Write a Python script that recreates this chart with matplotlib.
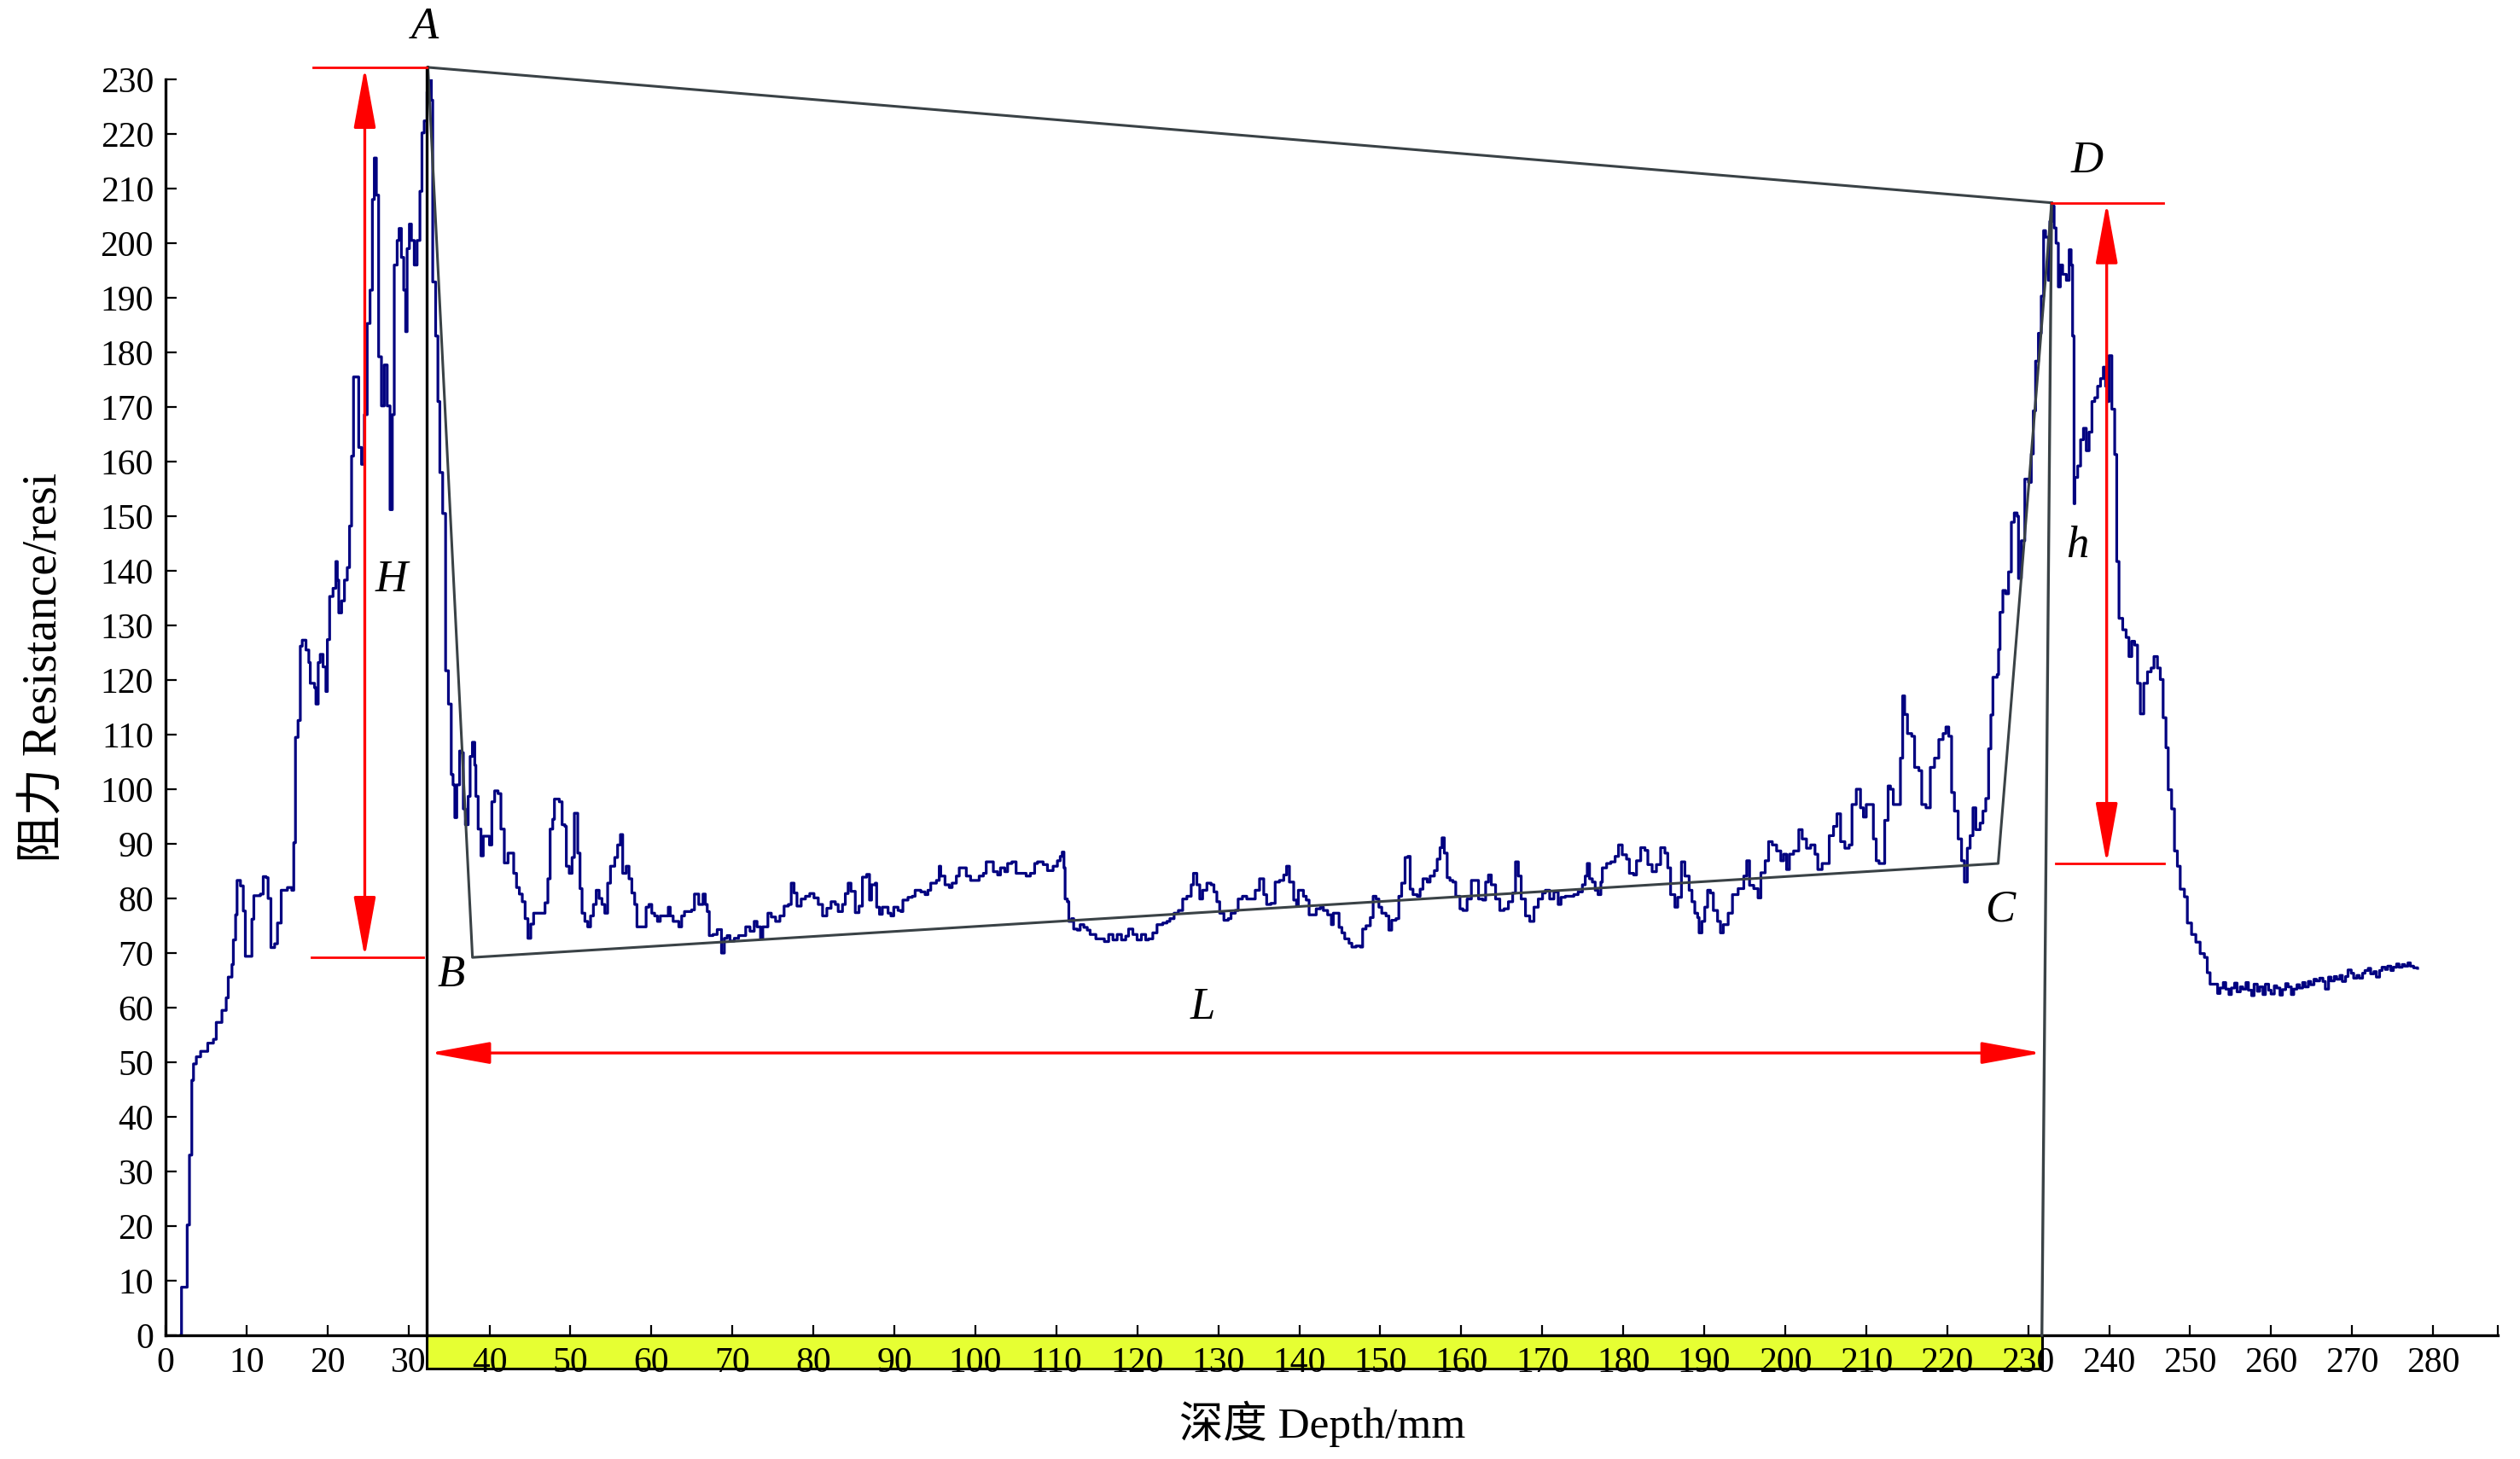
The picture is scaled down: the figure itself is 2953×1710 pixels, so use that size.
import matplotlib.pyplot as plt
from matplotlib.patches import Rectangle

# resistance curve (depth in mm, resistance in resi)
depth = [
    1.9, 1.97, 2.67, 2.67, 2.95, 3.24, 3.45, 3.80, 4.33, 5.21, 5.91, 6.26, 6.96, 7.49, 7.74, 8.20,
    8.37, 8.65, 8.83, 9.25, 9.60, 9.85, 10.41, 10.66, 10.90, 11.71, 12.06, 12.42, 12.66, 13.01, 13.47,
    13.82, 14.28, 15.05, 15.58, 15.83, 16.04, 16.36, 16.64, 16.88, 17.34, 17.69, 17.87, 18.40, 18.57,
    18.85, 19.10, 19.45, 19.80, 19.98, 20.26, 20.68, 21.03, 21.21, 21.39, 21.74, 22.09, 22.44, 22.72,
    22.97, 23.21, 23.60, 23.85, 24.20, 24.55, 24.90, 25.25, 25.54, 25.78, 26.03, 26.31, 26.66, 27.01,
    27.37, 27.72, 28.00, 28.24, 28.60, 28.84, 29.12, 29.41, 29.65, 29.83, 30.11, 30.36, 30.71, 31.06,
    31.41, 31.66, 31.94, 32.29, 32.54, 32.82, 32.99, 33.35, 33.63, 33.87, 34.22, 34.58, 34.93, 35.28,
    35.50, 35.72, 35.96, 36.31, 36.56, 36.77, 37.02, 37.37, 37.61, 37.89, 38.18, 38.32, 38.60, 38.95,
    39.23, 40.00, 40.29, 40.64, 41.06, 41.41, 41.83, 42.29, 42.75, 42.99, 43.34, 43.69, 44.05, 44.40,
    44.75, 45.10, 45.45, 46.51, 46.86, 47.21, 47.49, 47.81, 48.02, 48.62, 48.97, 49.32, 49.49, 49.85,
    50.20, 50.48, 50.72, 50.90, 51.18, 51.43, 51.78, 52.13, 52.48, 52.83, 53.18, 53.54, 53.89, 54.24,
    54.59, 54.94, 55.47, 55.82, 56.17, 56.45, 56.88, 57.23, 57.58, 57.93, 58.21, 58.98, 59.34, 59.69,
    60.04, 60.39, 60.74, 61.09, 61.80, 62.08, 62.32, 62.68, 63.03, 63.38, 63.73, 64.08, 64.96, 65.31,
    65.84, 66.37, 66.65, 66.89, 67.14, 67.60, 68.12, 68.65, 69.00, 69.35, 69.70, 70.23, 70.76, 71.11,
    71.64, 72.17, 72.69, 73.04, 73.47, 73.75, 74.38, 74.80, 75.33, 75.86, 76.38, 76.91, 77.26, 77.61,
    77.97, 78.49, 79.02, 79.55, 80.07, 80.60, 81.13, 81.66, 82.18, 82.71, 83.06, 83.59, 83.94, 84.29,
    84.64, 85.17, 85.63, 86.05, 86.58,
    86.93, 87.18, 87.64, 87.81, 88.16, 88.51, 89.22, 89.57, 89.92, 90.45, 90.80, 91.05, 91.68, 92.21,
    92.56, 93.26, 93.79, 94.14, 94.49, 95.19, 95.54, 95.72, 96.25, 96.78, 97.13, 97.65, 98.01, 98.53,
    98.88, 99.41, 99.94, 100.47, 100.99, 101.34, 101.87, 102.22, 102.75, 103.10, 103.63, 103.98,
    104.51, 105.03, 105.74, 106.27, 106.79, 107.32, 107.67, 108.37, 108.90, 109.60, 110.13, 110.48,
    110.73, 110.94, 111.08, 111.36, 111.54, 111.89, 112.14, 112.59, 112.94, 113.40, 113.82, 114.17,
    114.88, 115.58, 115.93, 116.46, 116.99, 117.51, 118.04, 118.57, 118.92, 119.45, 119.97, 120.50,
    121.03, 121.38, 121.91, 122.43, 123.14, 123.66, 124.02, 124.54, 125.07, 125.60, 126.12, 126.65,
    126.93, 127.35, 127.71, 128.06, 128.59, 129.11, 129.46, 129.82, 130.17, 130.69, 131.22, 131.57,
    132.10, 132.45, 132.98, 133.51, 134.03, 134.56, 135.09, 135.61, 135.97, 136.49, 137.02, 137.55,
    138.08, 138.43, 138.78, 139.31, 139.66,
    139.88, 140.51, 140.86, 141.21, 141.74, 142.09, 142.62, 142.97, 143.50, 143.96, 144.20, 144.55,
    144.91, 145.26, 145.61, 146.14, 146.49, 147.01, 147.54, 147.82, 148.24, 148.77, 149.12, 149.48,
    149.83, 150.18, 150.71, 151.06, 151.41, 151.94, 152.29, 152.64, 153.06, 153.41, 153.69, 154.04,
    154.57, 154.92, 155.27, 155.80, 156.15, 156.68, 157.03, 157.38, 157.63, 157.91, 158.26, 158.61,
    158.97, 159.32, 159.84, 160.20, 160.72, 161.25, 161.78, 162.13, 162.66, 163.01, 163.36, 163.71,
    164.24, 164.76, 165.29, 165.82, 166.35, 166.70, 167.05, 167.40, 167.93, 168.46, 168.98, 169.51,
    170.04, 170.39, 170.92, 171.44, 171.97, 172.32, 172.85, 173.38, 173.90, 174.43, 174.96, 175.31,
    175.56, 175.84, 176.19, 176.54, 176.89, 177.24, 177.42, 177.95, 178.47, 179.00, 179.42, 179.88,
    180.41, 180.76, 181.29, 181.64, 182.16, 182.69, 183.04, 183.57, 184.10, 184.62, 185.15, 185.50,
    185.85, 186.38, 186.73, 187.19, 187.61, 188.14, 188.49, 188.84, 189.19, 189.37, 189.72, 190.07,
    190.42, 190.77, 191.13, 191.65, 192.01, 192.36,
    192.96, 193.49, 194.19, 194.89, 195.25, 195.60, 196.12, 196.65, 197.00, 197.53, 197.95, 198.41,
    198.94, 199.46, 199.81, 200.17, 200.52, 201.04, 201.68, 202.10, 202.63, 203.15, 203.68, 204.03,
    204.56, 204.91, 205.44, 205.97, 206.39, 206.84, 207.37, 207.90, 208.25, 208.78, 209.30, 209.66,
    210.01, 210.54, 210.89, 211.24, 211.59, 212.01, 212.29, 212.71, 213.00, 213.35, 213.87, 214.23,
    214.51, 214.75, 215.10, 215.63, 215.98, 216.51, 216.86, 217.39, 217.92, 218.44, 218.97, 219.50,
    219.85, 220.20, 220.55, 220.90, 221.36, 221.78, 222.13, 222.49, 222.84, 223.19, 223.54, 224.07,
    224.42, 224.77, 225.12, 225.40, 225.65, 226.18, 226.35, 226.53, 226.88, 227.23, 227.58, 227.93,
    228.29, 228.64, 228.81, 229.16, 229.59, 230.04, 230.39, 230.64, 230.92, 231.27, 231.62, 231.91,
    232.15, 232.50, 232.68, 232.93, 233.21, 233.45, 233.73, 233.98, 234.26, 234.72, 235.07, 235.31,
    235.49, 235.67,
    235.77, 236.12, 236.48, 236.83, 237.18, 237.53, 237.88, 238.23, 238.58, 238.94, 239.29, 239.57,
    239.81, 239.99, 240.34, 240.69, 240.94, 241.22, 241.68, 242.10, 242.45, 242.80, 243.15, 243.51,
    243.86, 244.28, 244.74, 245.19, 245.54, 245.97, 246.32, 246.67, 247.02, 247.30, 247.72, 248.07,
    248.43, 248.78, 249.30, 249.66, 250.18, 250.71, 251.24, 251.77, 252.12, 252.47,
    253.0, 253.4, 253.7, 254.1, 254.4, 254.8, 255.1, 255.5, 255.8, 256.2, 256.5, 256.9, 257.2, 257.6,
    257.9, 258.3, 258.6, 259.0, 259.3, 259.7, 260.0, 260.4, 260.7, 261.1, 261.4, 261.8, 262.1, 262.5,
    262.8, 263.2, 263.5, 263.9, 264.2, 264.6, 264.9, 265.3, 265.6, 266.0, 266.4, 266.7, 267.1, 267.4,
    267.8, 268.1, 268.5, 268.8, 269.2, 269.5, 269.9, 270.2, 270.6, 270.9, 271.3, 271.6, 272.0, 272.3,
    272.7, 273.0, 273.4, 273.7, 274.1, 274.4, 274.8, 275.1, 275.5, 275.8, 276.2, 276.5, 276.9, 277.2,
    277.6, 278.1,
]
resistance = [
    0, 8.8, 8.8, 20.2, 33.0, 46.7, 49.7, 51.0, 52.0, 53.5, 54.2, 57.3, 59.5, 61.8, 65.6, 67.9,
    72.4, 77.0, 83.3, 82.3, 77.7, 69.4, 69.4, 76.2, 80.5, 80.8, 84.0, 83.8, 80.0, 71.0, 71.7,
    75.5, 81.5, 82.0, 81.5, 90.2, 109.5, 112.6, 126.2, 127.3, 125.5, 123.2, 119.4, 118.6, 115.6,
    123.2, 124.7, 122.4, 117.9, 127.4, 135.3, 136.8, 141.7, 138.3, 132.3, 134.5, 138.3, 140.6, 148.2,
    161.0, 175.5, 175.5, 162.6, 159.5, 168.6, 185.3, 191.4, 208.0, 215.6, 208.8, 179.2, 170.2, 177.7,
    170.2, 151.2, 168.6, 196.0, 200.5, 202.7, 197.4, 191.4, 183.8, 199.0, 203.5, 200.5, 196.0, 200.5,
    209.5, 220.2, 222.4, 227.7, 232.0, 226.2, 192.9, 183.0, 171.0, 158.0, 150.5, 121.7, 115.6, 102.7,
    100.8, 94.8, 100.8, 107.0, 106.7, 96.4, 93.5, 98.7, 106.0, 108.6, 104.4, 98.7, 92.7, 87.8,
    91.4, 89.8, 97.7, 99.7, 99.2, 92.7, 86.5, 88.3, 88.3, 84.6, 82.0, 80.8, 79.4, 76.3,
    72.7, 75.3, 77.3, 77.3, 79.2, 83.6, 92.7, 94.5, 98.2, 97.7, 93.5, 93.2, 85.9, 84.6,
    87.5, 95.6, 95.6, 88.3, 81.8, 77.3, 75.8, 74.8, 76.8, 78.9, 81.5, 80.0, 78.9, 77.3,
    82.8, 85.9, 87.5, 89.8, 91.7, 84.6, 85.9, 83.6, 81.0, 78.9, 74.8, 74.8, 78.4, 78.9,
    77.3, 76.8, 75.8, 76.8, 76.8, 78.4, 76.8, 75.8, 75.8, 74.8, 76.8, 77.6, 77.9, 80.8,
    78.9, 80.8, 78.9, 77.6, 73.2, 73.4, 74.3, 70.0, 72.7, 73.2, 72.2, 72.7, 73.2, 73.2,
    74.8, 74.0, 75.8, 74.8, 72.7, 74.8, 77.3, 76.6, 75.8, 76.8, 78.6, 78.9, 82.8, 81.0,
    78.6, 79.9, 80.4, 80.9, 80.1, 78.9, 76.8, 78.2, 79.4, 78.9, 77.6, 78.9, 80.9, 82.8,
    81.3, 77.4, 78.6, 83.9, 84.4,
    79.7, 82.5, 82.8, 78.4, 77.1, 78.4, 77.3, 76.8, 78.4, 77.8, 77.6, 79.7, 80.2, 80.4,
    81.5, 81.2, 80.7, 81.5, 82.8, 83.3, 85.9, 84.1, 82.5, 82.0, 82.8, 84.1, 85.6, 85.6,
    84.1, 83.3, 83.3, 84.1, 84.6, 86.7, 86.7, 84.9, 84.3, 85.6, 84.9, 86.4,
    86.7, 84.6, 84.6, 84.1, 84.6, 86.4, 86.7, 86.2, 85.1, 85.9, 86.9, 87.7,
    88.5, 85.6, 79.9, 79.4, 75.8, 76.3, 74.4, 74.2, 75.2, 74.7, 74.2, 73.4,
    72.6, 72.6, 72.1, 73.4, 72.4, 73.4, 72.4, 73.1, 74.4, 73.4, 72.4, 73.4,
    72.4, 72.6, 73.7, 75.2, 75.5, 75.8, 76.3, 77.3, 77.8, 79.9, 80.4, 82.5,
    84.6, 82.5, 79.9, 81.5, 82.8, 82.5, 81.2, 79.4, 77.3, 76.0, 76.3, 77.3,
    77.8, 79.9, 80.4, 79.9, 79.9, 81.5, 83.6, 80.7, 78.9, 79.1, 83.0, 83.3,
    84.3, 85.9, 83.0, 79.7, 78.6,
    81.5, 80.4, 79.7, 77.0, 77.0, 78.1, 78.4, 77.8, 77.0, 75.2, 77.3, 77.3,
    74.7, 73.7, 72.6, 71.8, 71.1, 71.3, 71.1, 74.4, 75.0, 76.5, 80.4, 79.9,
    78.4, 77.3, 76.8, 74.2, 76.0, 76.3, 80.4, 82.8, 87.5, 87.7, 81.7, 80.7,
    80.4, 81.7, 83.6, 83.0, 84.1, 85.1, 87.2, 89.3, 91.1, 88.3, 83.8, 83.3,
    83.0, 80.4, 78.1, 77.8, 79.9, 83.3, 83.3, 79.9, 79.7, 83.0, 84.3, 82.5,
    79.9, 77.8, 78.1, 79.4, 81.0, 86.7, 84.1, 79.9, 76.8, 75.8, 78.4, 79.9,
    81.0, 81.5, 79.9, 81.2, 78.9, 80.2, 80.4, 80.4, 80.7, 81.2, 82.5, 84.1,
    86.4, 83.6, 83.0, 81.5, 80.7, 83.0, 85.6, 86.4, 86.7, 87.7, 89.8, 88.0,
    87.2, 84.6, 84.3, 86.9, 89.3, 88.8, 86.2, 84.9, 86.2, 89.3, 88.3, 85.6,
    80.7, 78.4, 80.2, 86.7, 84.1, 81.5, 79.4, 77.3, 76.5, 73.7, 75.8, 78.4,
    81.5, 81.0, 77.8, 75.8, 73.7, 75.2,
    77.3, 80.7, 81.8, 84.1, 86.9, 82.4, 81.8, 80.1, 84.7, 86.9, 90.4, 89.8,
    88.7, 86.9, 88.1, 85.3, 88.1, 88.7, 92.6, 90.9, 89.2, 89.8, 88.1, 85.3,
    86.4, 86.4, 91.5, 93.2, 95.5, 90.4, 89.2, 89.8, 97.2, 100.0, 96.6, 94.9,
    97.2, 97.2, 90.9, 86.9, 86.4, 86.4, 94.3, 100.6, 100.0, 97.2, 97.2, 105.7,
    117.1, 113.7, 110.2, 109.7, 104.0, 103.4, 97.2, 96.6, 104.0, 105.7, 109.1, 110.2,
    111.4, 109.7, 99.4, 96.0, 90.9, 86.9, 83.0, 89.2, 91.5, 96.6, 92.6, 93.8,
    96.0, 98.3, 107.4, 113.6, 120.5, 121.0, 125.6, 132.4, 136.4, 135.8, 139.8, 148.9,
    150.6, 150.0, 138.6, 145.5, 156.8, 156.2, 161.4, 169.3, 178.4, 183.5, 190.3, 202.3,
    201.1, 193.2, 204.0, 206.8, 202.8, 200.0, 192.0, 196.0, 194.3, 193.2, 198.8, 196.0,
    183.0, 152.3,
    157.1, 159.2, 164.0, 166.1, 162.0, 165.4, 171.0, 171.7, 173.8, 175.2, 177.3, 173.8,
    171.0, 179.4, 169.6, 161.3, 141.7, 131.3, 129.2, 127.8, 124.3, 127.1, 126.4, 119.4,
    113.8, 119.4, 121.5, 122.2, 124.3, 122.2, 120.1, 113.1, 107.6, 99.9, 96.4, 88.7,
    85.9, 81.7, 80.3, 75.5, 73.4, 72.0, 69.9, 69.2, 66.4, 64.3,
    64.3, 62.6, 63.6, 64.6, 63.4, 62.4, 63.6, 64.5, 62.9, 63.8, 63.4, 64.6, 63.2, 62.2,
    64.3, 63.0, 63.8, 62.4, 64.3, 63.2, 62.5, 64.0, 63.6, 62.3, 63.3, 64.4, 63.8, 62.4,
    63.4, 64.2, 63.6, 64.6, 63.8, 64.8, 64.2, 65.2, 64.9, 65.4, 64.8, 63.4, 65.6, 64.9,
    65.7, 65.2, 65.9, 64.8, 65.7, 66.9, 66.3, 65.4, 65.9, 65.4, 66.3, 66.8, 67.2, 66.2,
    66.6, 65.6, 66.8, 67.4, 67.0, 67.6, 66.8, 67.4, 68.0, 67.4, 67.9, 67.6, 68.2, 67.6,
    67.3, 67.2,
]

# corner points of the fitted outline A-B-C-D
outline_x = [32.4, 37.9, 226.3, 232.9, 32.4]
outline_y = [232.2, 69.2, 86.4, 207.4, 232.2]
point_names = ['A', 'B', 'C', 'D']

x_ticks = list(range(0, 290, 10))
y_ticks = list(range(0, 240, 10))

plt.rcParams['font.family'] = ['Liberation Serif', 'Noto Sans CJK SC']

fig = plt.figure(figsize=(29.53, 17.10), dpi=100)
ax = fig.add_axes([0.0657, 0.0848, 0.9255, 0.8608])

ax.plot(depth, resistance, color='#000080', lw=2.3, drawstyle='steps-post', zorder=2)

# outline and the two vertical lines through A and D
ax.plot(outline_x, outline_y, color='#3a4246', lw=2.2, zorder=3, clip_on=False)
ax.plot([outline_x[0] - 0.2] * 2, [0, outline_y[0]], color='black', lw=2.4, zorder=3, clip_on=False)
ax.plot([231.7, outline_x[3]], [0, outline_y[3]], color='#3a4246', lw=2.4, zorder=3, clip_on=False)

# yellow band under the axis between A and D
band = Rectangle((32.2, -6.1), 231.7 - 32.2, 6.1, facecolor='#e6ff33', edgecolor='black',
                 lw=2.2, clip_on=False, zorder=1)
ax.add_patch(band)

# red guide lines and double arrows
red = '#ff0000'
for xs, ys in [([18.2, 32.2], [232.2, 232.2]), ([18.0, 31.8], [69.2, 69.2]),
               ([232.9, 246.7], [207.4, 207.4]), ([233.4, 246.8], [86.4, 86.4])]:
    ax.plot(xs, ys, color=red, lw=2.0, zorder=4, clip_on=False)

arrow = dict(arrowstyle='<|-|>,head_length=44,head_width=8', color=red, lw=2.4,
             shrinkA=0, shrinkB=0, mutation_scale=1)
ax.annotate('', xy=(24.6, 232.2), xytext=(24.6, 69.2), arrowprops=arrow, annotation_clip=False)
ax.annotate('', xy=(239.7, 207.4), xytext=(239.7, 86.4), arrowprops=arrow, annotation_clip=False)
ax.annotate('', xy=(32.6, 51.7), xytext=(231.7, 51.7), arrowprops=arrow, annotation_clip=False)

# point and dimension labels
lbl = dict(fontsize=38, fontstyle='italic', ha='center', va='center', zorder=5)
for name, (tx, ty) in zip(point_names, [(32.0, 239.5), (35.3, 66.0), (226.5, 77.9), (237.3, 215.0)]):
    ax.text(tx, ty, name, clip_on=False, **lbl)
ax.text(27.9, 138.3, 'H', **lbl)
ax.text(236.1, 144.5, 'h', **lbl)
ax.text(128.1, 60.0, 'L', **lbl)

ax.set_xlim(0, 288)
ax.set_ylim(0, 230)
ax.spines['top'].set_visible(False)
ax.spines['right'].set_visible(False)
ax.spines['left'].set_linewidth(2.4)
ax.spines['bottom'].set_linewidth(2.4)
ax.set_xticks(x_ticks + [288])
ax.set_xticklabels([str(v) for v in x_ticks] + [''])
ax.set_yticks(y_ticks)
ax.set_yticklabels([str(v) for v in y_ticks])
ax.tick_params(direction='in', length=9, width=1.6, labelsize=30, pad=10)

fig.text(0.0173, 0.5427, '阻力 Resistance/resi', rotation=90, ha='center', va='center', fontsize=40)
fig.text(0.5249, 0.024, '深度 Depth/mm', ha='center', va='center', fontsize=37)

fig.savefig('out.png', dpi=100, facecolor='white')
